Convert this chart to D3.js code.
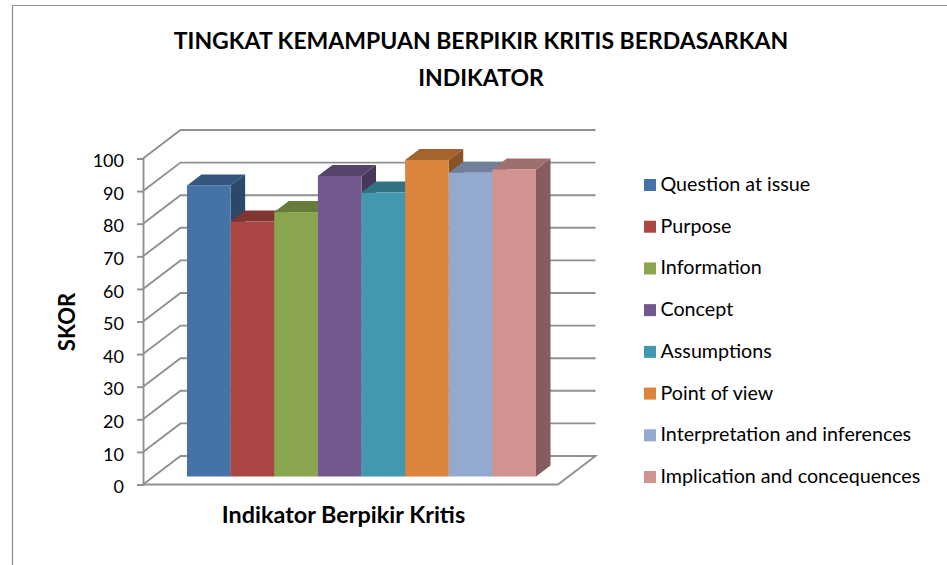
<!DOCTYPE html>
<html>
<head>
<meta charset="utf-8">
<script src="https://cdn.jsdelivr.net/npm/d3@7"></script>
<style>
  body { margin: 0; background: white; }
  text { font-family: Lato, "Open Sans", sans-serif; fill: black; }
</style>
</head>
<body>
<div id="canvas"></div>
<script>
"use strict"

// DATA
let indicators = ["Question at issue", "Purpose", "Information", "Concept", "Assumptions", "Point of view", "Interpretation and inferences", "Implication and concequences"];
let scores = [89.3, 78.2, 81.1, 92.2, 87.1, 97.1, 93.2, 94.2];
let scoreTicks = [0, 10, 20, 30, 40, 50, 60, 70, 80, 90, 100];
let frontColors = ["#4573a7", "#aa4643", "#89a54e", "#71588f", "#4198af", "#db843d", "#93a9cf", "#d19392"];
let topColors = ["#34567f", "#803533", "#677c3b", "#55436c", "#317384", "#a5632e", "#6f7f9c", "#9e6f6e"];
let sideColors = ["#2b4869", "#6b2c2a", "#566831", "#47385a", "#296070", "#8a5326", "#5d6a83", "#855d5c"];
let titleLines = ["TINGKAT KEMAMPUAN BERPIKIR KRITIS BERDASARKAN", "INDIKATOR"];

/* Configuration variables: drawing */
let svgWidth = 947;
let svgHeight = 565;

let axisLeft = 143;
let floorRight = 558;
let axisBottom = 484.5;
let axisTop = 158.5;

// how far the back wall and the bars sit behind the front of the floor
let wallDx = 37.5;
let wallDy = -28.5;
let barDx = 11.5;
let barDy = -8;
let barDepthDx = 14.5;
let barDepthDy = -11;

let gridColor = "#909090";

let svg = d3.select("#canvas")
  .append("svg")
  .attr("width", svgWidth)
  .attr("height", svgHeight)
  .style("display", "block");

// outer frame, only top and left show
svg.append("path")
  .attr("d", "M12.5," + svgHeight + "V5.5H" + svgWidth)
  .attr("fill", "none")
  .attr("stroke", "#8f8f8f")
  .attr("stroke-width", 1.2);

// SCALES

let yScale = d3.scaleLinear()
  .domain([0, 100])
  .range([axisBottom, axisTop]);

let xScale = d3.scaleBand()
  .domain(indicators)
  .range([187, 536]);

// WALLS AND FLOOR

let floorPoints = [
  [axisLeft, axisBottom],
  [floorRight, axisBottom],
  [floorRight + wallDx, axisBottom + wallDy],
  [axisLeft + wallDx, axisBottom + wallDy]
];

svg.append("polygon")
  .attr("points", floorPoints.join(" "))
  .attr("fill", "none")
  .attr("stroke", gridColor)
  .attr("stroke-width", 1.9);

for (let i = 1; i < scoreTicks.length; i++) {
  let y = yScale(scoreTicks[i]);
  svg.append("polyline")
    .attr("points", [[axisLeft, y], [axisLeft + wallDx, y + wallDy], [floorRight + wallDx, y + wallDy]].join(" "))
    .attr("fill", "none")
    .attr("stroke", gridColor)
    .attr("stroke-width", 1.9);
}

// AXIS

let yAxis = svg.append("g")
  .attr("transform", "translate(" + axisLeft + ",0)")
  .call(d3.axisLeft(yScale).tickValues(scoreTicks).tickSize(6).tickPadding(13));

yAxis.selectAll("path, line")
  .attr("stroke", gridColor)
  .attr("stroke-width", 1.9);

yAxis.selectAll("text")
  .attr("dy", "0.45em")
  .style("font-family", "Lato")
  .style("font-size", "18px")
  .attr("fill", "black");

// BARS, left to right so the later ones cover the earlier ones

let barWidth = xScale.bandwidth();

let bars = svg.selectAll("g.bar")
  .data(indicators)
  .join("g")
  .attr("class", "bar");

bars.append("polygon") // side
  .attr("fill", function (value, i) { return sideColors[i]; })
  .attr("points", function (value, i) {
    let x = xScale(value) + barWidth;
    let top = yScale(scores[i]) + barDy;
    let bottom = yScale(0) + barDy;
    return [[x, top], [x + barDepthDx, top + barDepthDy], [x + barDepthDx, bottom + barDepthDy], [x, bottom]].join(" ");
  });

bars.append("polygon") // top
  .attr("fill", function (value, i) { return topColors[i]; })
  .attr("points", function (value, i) {
    let x = xScale(value);
    let top = yScale(scores[i]) + barDy;
    return [[x, top], [x + barDepthDx, top + barDepthDy], [x + barWidth + barDepthDx, top + barDepthDy], [x + barWidth, top]].join(" ");
  });

bars.append("rect") // front
  .attr("fill", function (value, i) { return frontColors[i]; })
  .attr("x", function (value) { return xScale(value); })
  .attr("y", function (value, i) { return yScale(scores[i]) + barDy; })
  .attr("width", barWidth)
  .attr("height", function (value, i) { return yScale(0) - yScale(scores[i]); });

// TITLES

svg.selectAll("text.title")
  .data(titleLines)
  .join("text")
  .attr("class", "title")
  .attr("x", 481)
  .attr("y", function (value, i) { return 49 + i * 37; })
  .style("text-anchor", "middle")
  .style("font-size", "23px")
  .style("font-weight", "bold")
  .text(function (value) { return value; });

svg.append("text")
  .attr("x", 343.5)
  .attr("y", 523)
  .style("text-anchor", "middle")
  .style("font-size", "23.4px")
  .style("font-weight", "bold")
  .text("Indikator Berpikir Kritis");

svg.append("text")
  .attr("transform", "translate(75,322) rotate(-90)")
  .style("text-anchor", "middle")
  .style("font-size", "22px")
  .style("font-weight", "bold")
  .text("SKOR");

// LEGEND

let legendScale = d3.scalePoint()
  .domain(indicators)
  .range([185, 477]);

svg.selectAll("rect.key")
  .data(indicators)
  .join("rect")
  .attr("class", "key")
  .attr("x", 644)
  .attr("y", function (value) { return legendScale(value) - 6; })
  .attr("width", 12)
  .attr("height", 12)
  .attr("fill", function (value, i) { return frontColors[i]; });

svg.selectAll("text.keyLabel")
  .data(indicators)
  .join("text")
  .attr("class", "keyLabel")
  .attr("x", 660.5)
  .attr("y", function (value) { return legendScale(value) + 6; })
  .style("font-size", "19.7px")
  .text(function (value) { return value; });
</script>
</body>
</html>
